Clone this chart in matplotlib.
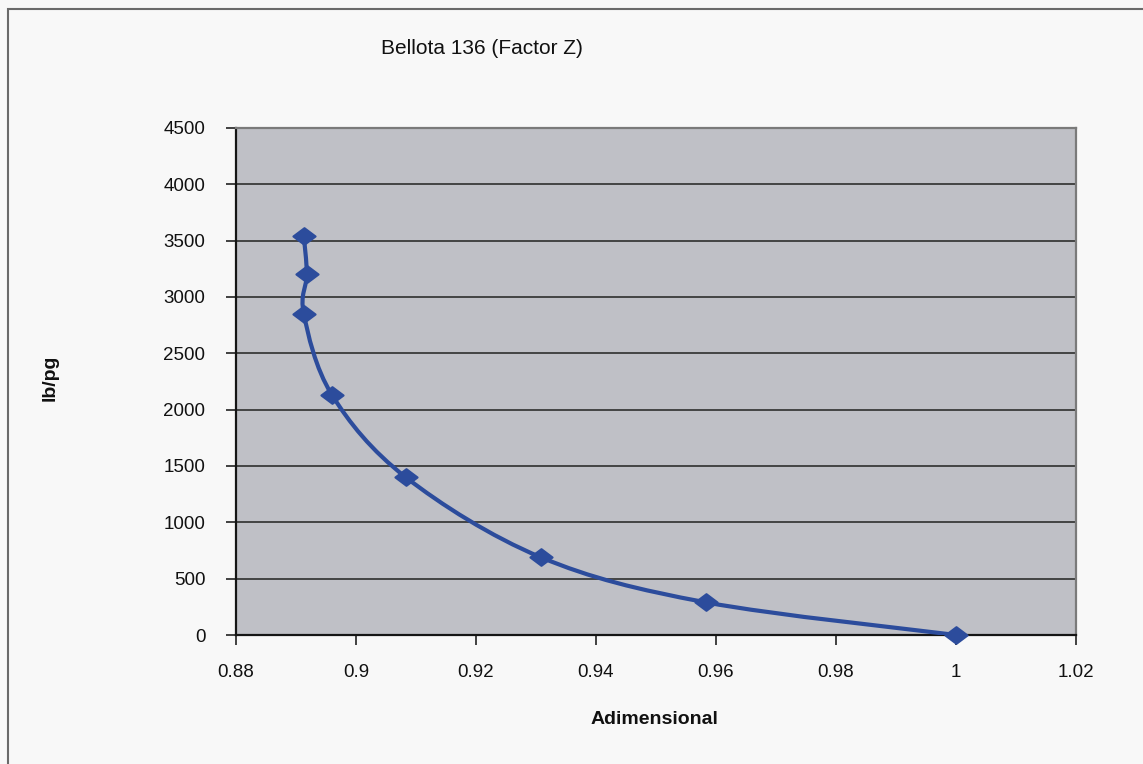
import matplotlib
matplotlib.use("Agg")
import matplotlib.pyplot as plt
from matplotlib.path import Path
from matplotlib.patches import PathPatch, Rectangle
import numpy as np

# Z factor versus pressure
z_factor = [1.0, 0.9583, 0.9308, 0.9083, 0.896, 0.8913, 0.8918, 0.8913]
pressure = [0, 290, 690, 1400, 2130, 2850, 3200, 3540]

x_ticks = [0.88, 0.9, 0.92, 0.94, 0.96, 0.98, 1.0, 1.02]
x_tick_labels = ["0.88", "0.9", "0.92", "0.94", "0.96", "0.98", "1", "1.02"]
y_ticks = [0, 500, 1000, 1500, 2000, 2500, 3000, 3500, 4000, 4500]
y_tick_labels = [str(v) for v in y_ticks]

title = "Bellota 136 (Factor Z)"
x_label = "Adimensional"
y_label = "lb/pg"

W, H = 1143, 764
fig = plt.figure(figsize=(W / 100, H / 100), dpi=100, facecolor="#f8f8f8")
plt.rcParams["font.family"] = ["Liberation Sans", "DejaVu Sans"]

left, right, top, bottom = 236, 1076, 128, 635
ax = fig.add_axes([left / W, 1 - bottom / H, (right - left) / W, (bottom - top) / H])
ax.set_facecolor("#bfc0c6")

xmin, xmax = 0.88, 1.02
ymin, ymax = 0, 4500
ax.set_xlim(xmin, xmax)
ax.set_ylim(ymin, ymax)

ax.set_xticks(x_ticks)
ax.set_xticklabels(x_tick_labels)
ax.set_yticks(y_ticks)
ax.set_yticklabels(y_tick_labels)
ax.tick_params(axis="both", direction="out", length=7, width=1.2, colors="#222222",
               labelsize=13.5, labelcolor="#111111")
ax.tick_params(axis="y", pad=15)
ax.tick_params(axis="x", pad=14)

ax.yaxis.grid(True, color="#3a3a3a", linewidth=1.3)
ax.set_axisbelow(True)
for side in ("left", "bottom"):
    ax.spines[side].set_color("#151515")
    ax.spines[side].set_linewidth(1.6)
for side in ("top", "right"):
    ax.spines[side].set_color("#7a7a7a")
    ax.spines[side].set_linewidth(1.6)

# Smoothed curve: cubic Bezier segments through the points, with control
# points computed in screen-proportional space (Catmull-Rom style)
pw, ph = right - left, bottom - top
u = [(x - xmin) / (xmax - xmin) * pw for x in z_factor]
v = [(y - ymin) / (ymax - ymin) * ph for y in pressure]
pts = np.column_stack([u, v])
n = len(pts)
verts = [pts[0]]
codes = [Path.MOVETO]
for i in range(n - 1):
    p0 = pts[i - 1] if i > 0 else pts[i]
    p1 = pts[i]
    p2 = pts[i + 1]
    p3 = pts[i + 2] if i + 2 < n else pts[i + 1]
    c1 = p1 + (p2 - p0) / 6.0
    c2 = p2 - (p3 - p1) / 6.0
    verts += [c1, c2, p2]
    codes += [Path.CURVE4] * 3
verts = np.array(verts)
verts_data = np.column_stack([
    xmin + verts[:, 0] / pw * (xmax - xmin),
    ymin + verts[:, 1] / ph * (ymax - ymin),
])
line_color = "#2c4c9c"
ax.add_patch(PathPatch(Path(verts_data, codes), facecolor="none",
                       edgecolor=line_color, linewidth=3, zorder=3))

# Wide diamond marker
diamond = Path([(-1.0, 0.0), (0.0, 0.75), (1.0, 0.0), (0.0, -0.75), (-1.0, 0.0)],
               [Path.MOVETO, Path.LINETO, Path.LINETO, Path.LINETO, Path.CLOSEPOLY])
ax.plot(z_factor, pressure, linestyle="none", marker=diamond, markersize=16,
        markerfacecolor=line_color, markeredgecolor=line_color,
        markeredgewidth=1.5, zorder=4, clip_on=False)

# Titles and labels
fig.text(482 / W, 1 - 48 / H, title, ha="center", va="center", fontsize=15,
         color="#111111")
fig.text(654 / W, 1 - 720 / H, x_label, ha="center", va="center", fontsize=14,
         fontweight="bold", color="#111111")
fig.text(50 / W, 1 - 378 / H, y_label, ha="center", va="center", fontsize=14,
         fontweight="bold", rotation=90, color="#111111")

# Chart frame
fig.patches.append(Rectangle((8 / W, -0.05), 1.2, 1 - 9 / H + 0.05,
                             transform=fig.transFigure, facecolor="none",
                             edgecolor="#6a6a6a", linewidth=1.5))

fig.savefig("out.png", dpi=100, facecolor=fig.get_facecolor())
